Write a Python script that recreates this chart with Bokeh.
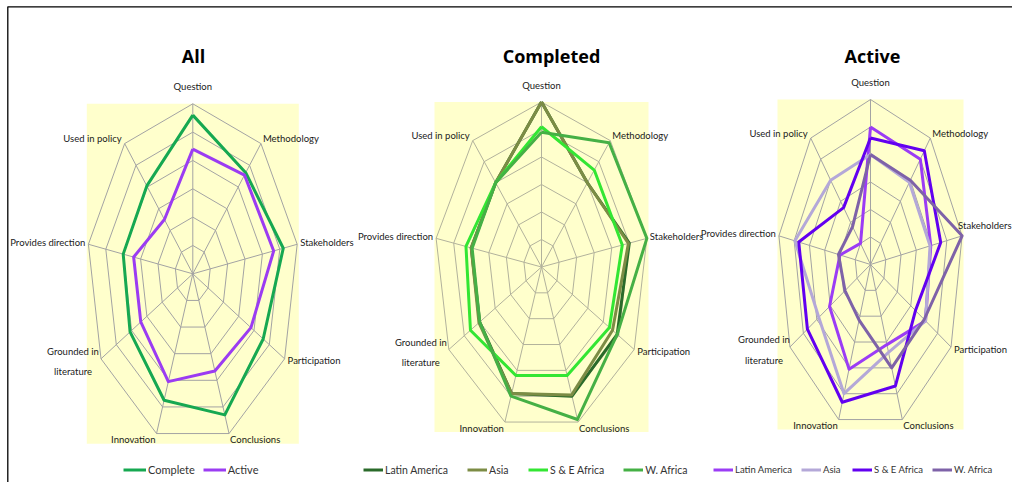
import numpy as np
from bokeh.plotting import figure
from bokeh.models import Range1d, Legend, LegendItem, ColumnDataSource
from bokeh.core.properties import value
from bokeh.embed import file_html
from bokeh.resources import INLINE

# ---------------- data ----------------
axis_labels = ["Question", "Methodology", "Stakeholders", "Participation", "Conclusions",
               "Innovation", "Grounded in\nliterature", "Provides direction", "Used in policy"]
VMAX = 6
ring_levels = [1, 2, 3, 4, 5, 6]

chart_titles = ["All", "Completed", "Active"]

all_series = ["Complete", "Active"]
all_complete = [5.6, 4.66, 5.2, 4.6, 5.3, 4.75, 4.1, 4.0, 4.05]
all_active = [4.4, 4.55, 4.65, 3.8, 3.65, 4.05, 3.4, 3.4, 2.5]

region_series = ["Latin America", "Asia", "S & E Africa", "W. Africa"]
completed_latin = [6.0, 4.0, 5.0, 4.9, 5.0, 4.9, 4.0, 4.0, 4.0]
completed_asia = [6.0, 4.0, 4.95, 4.6, 4.95, 4.9, 4.05, 4.0, 4.0]
completed_se = [5.1, 4.6, 4.6, 4.4, 4.2, 4.2, 4.6, 4.3, 4.0]
completed_w = [4.9, 5.9, 6.0, 4.9, 5.9, 5.0, 4.0, 3.95, 4.0]

active_latin = [5.0, 5.0, 3.95, 4.1, 3.1, 4.05, 3.05, 2.0, 1.0]
active_asia = [4.0, 3.9, 3.9, 4.1, 3.4, 5.0, 3.85, 4.95, 4.0]
active_se = [4.6, 5.4, 4.6, 3.35, 4.7, 5.33, 4.7, 4.7, 2.7]
active_w = [4.0, 4.0, 6.0, 4.0, 4.0, 2.15, 1.9, 2.1, 1.8]

# ---------------- styles / layout ----------------
LABEL_FONT = "Lato"
TITLE_FONT = "Open Sans"
W, H = 1012, 482
TITLE_Y = 55

charts = [
    dict(cx=192.3, cy=273.3, rx=106, ry=170, tx=193, grid="#A3A3A3",
         series=[all_complete, all_active], names=all_series,
         colors=["#16A851", "#9B3CF2"],
         leg_x=123, leg_glyph=23, leg_spacing=8, leg_font="11px", overrides={}),
    dict(cx=541, cy=266.5, rx=107, ry=165, tx=551, grid="#B2B29C",
         series=[completed_latin, completed_asia, completed_se, completed_w], names=region_series,
         colors=["#2A6A2A", "#7C8C45", "#33E633", "#45B045"],
         leg_x=363, leg_glyph=20, leg_spacing=19, leg_font="10.5px", overrides={}),
    dict(cx=870, cy=264, rx=93, ry=165, tx=872, grid="#A3A3A3",
         series=[active_latin, active_asia, active_se, active_w], names=region_series,
         colors=["#9B3CF5", "#B4A8D8", "#6200F0", "#7E62A8"],
         leg_x=713, leg_glyph=20, leg_spacing=9, leg_font="9.5px",
         overrides={2: (-4, -10), 6: (-26, 3)}),
]

label_dx = [0, 2, 3, 3, 1, -1, -28, -3, -3]
label_dy = [-17, -5, -2, 2, 6, 6, 3, -2, -5]
label_align = ["center", "left", "left", "left", "left", "right", "center", "right", "right"]

theta = np.deg2rad(90 - 40 * np.arange(len(axis_labels)))

p = figure(width=W, height=H, x_range=Range1d(0, W), y_range=Range1d(H, 0),
           output_backend="svg", toolbar_location=None, min_border=0,
           x_axis_location=None, y_axis_location=None)
p.xgrid.visible = False
p.ygrid.visible = False
p.outline_line_color = None
p.background_fill_color = "white"
p.border_fill_color = "white"

# box border of the original figure (only its left and top edges are in view)
p.quad(left=7.3, right=W + 30, top=6.3, bottom=H + 30, fill_color=None,
       line_color="black", line_width=1.3)


def pts(c, vals, close=True):
    v = np.asarray(vals, dtype=float) / VMAX
    xs = c["cx"] + v * c["rx"] * np.cos(theta)
    ys = c["cy"] - v * c["ry"] * np.sin(theta)
    if close:
        xs = np.append(xs, xs[0])
        ys = np.append(ys, ys[0])
    return xs, ys


for ci, c in enumerate(charts):
    # yellow plot area
    p.quad(left=c["cx"] - c["rx"], right=c["cx"] + c["rx"],
           top=c["cy"] - c["ry"], bottom=c["cy"] + c["ry"],
           fill_color="#FFFFCC", line_color=None)
    # rings
    rxs, rys = [], []
    for lvl in ring_levels:
        xs, ys = pts(c, [lvl] * len(axis_labels))
        rxs.append(list(xs))
        rys.append(list(ys))
    p.multi_line(rxs, rys, line_color=c["grid"], line_width=1)
    # spokes
    ox, oy = pts(c, [VMAX] * len(axis_labels), close=False)
    p.segment(x0=[c["cx"]] * len(ox), y0=[c["cy"]] * len(oy), x1=ox, y1=oy,
              line_color=c["grid"], line_width=1)
    # axis labels
    dxs = list(label_dx)
    dys = list(label_dy)
    for k, (ddx, ddy) in c["overrides"].items():
        dxs[k], dys[k] = ddx, ddy
    src = ColumnDataSource(dict(x=ox, y=oy, t=axis_labels, dx=dxs, dy=dys,
                                align=label_align))
    p.text(x="x", y="y", text="t", x_offset="dx", y_offset="dy", text_align="align",
           text_baseline="middle", source=src, text_font=value(LABEL_FONT),
           text_font_size="9.5px", text_color="#1A1A1A", text_line_height=1.85)
    # title
    p.text(x=[c["tx"]], y=[TITLE_Y], text=[chart_titles[ci]],
           text_align="center", text_baseline="middle", text_font=value(TITLE_FONT),
           text_font_style="bold", text_font_size="18px", text_color="black")
    # series
    items = []
    for vals, name, col in zip(c["series"], c["names"], c["colors"]):
        xs, ys = pts(c, vals)
        r = p.line(xs, ys, line_color=col, line_width=3, line_join="round")
        items.append(LegendItem(label=name, renderers=[r]))
    leg = Legend(items=items, orientation="horizontal", location=(c["leg_x"], 6),
                 glyph_width=c["leg_glyph"], glyph_height=13, label_height=13,
                 label_standoff=2, spacing=c["leg_spacing"], padding=0, margin=0,
                 label_text_font=LABEL_FONT, label_text_font_size=c["leg_font"],
                 label_text_color="#333333", background_fill_alpha=0, border_line_alpha=0)
    p.add_layout(leg)

open("out.html", "w").write(file_html(p, INLINE))
